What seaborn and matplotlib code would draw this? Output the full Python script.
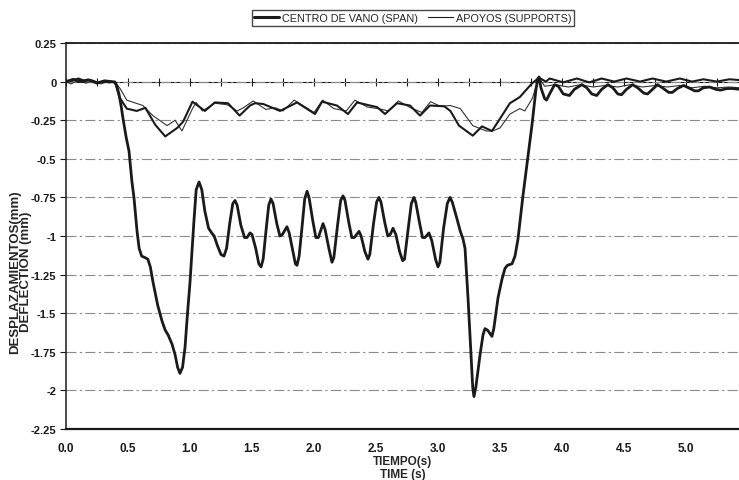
import matplotlib
matplotlib.use("Agg")
import matplotlib.pyplot as plt
from matplotlib.ticker import MultipleLocator
from matplotlib.lines import Line2D
import seaborn as sns
import pandas as pd

# ---------------- data ----------------
legend_labels = ["CENTRO DE VANO (SPAN)", "APOYOS (SUPPORTS)"]

t_span = [0.00, 0.06, 0.12, 0.18, 0.25, 0.31, 0.37, 0.395, 0.41, 0.427, 0.445, 0.46, 0.485,
          0.508, 0.532, 0.548, 0.573, 0.59, 0.61, 0.637, 0.66, 0.68, 0.702, 0.74, 0.774,
          0.80, 0.823, 0.855, 0.88, 0.90, 0.919, 0.94, 0.96, 0.98, 1.0, 1.032, 1.05,
          1.073, 1.095, 1.12, 1.15, 1.175, 1.195, 1.22, 1.25, 1.274, 1.295, 1.32, 1.345,
          1.363, 1.38, 1.41, 1.44, 1.46, 1.484, 1.50, 1.53, 1.555, 1.573, 1.59, 1.615,
          1.635, 1.653, 1.67, 1.70, 1.725, 1.745, 1.782, 1.80, 1.83, 1.85, 1.863, 1.88,
          1.905, 1.925, 1.944, 1.96, 1.99, 2.015, 2.035, 2.073, 2.09, 2.12, 2.145, 2.16,
          2.19, 2.215, 2.234, 2.25, 2.28, 2.305, 2.325, 2.363, 2.38, 2.41, 2.435, 2.45,
          2.48, 2.505, 2.524, 2.54, 2.57, 2.595, 2.615, 2.637, 2.66, 2.69, 2.715, 2.73,
          2.76, 2.785, 2.806, 2.82, 2.85, 2.875, 2.895, 2.927, 2.95, 2.98, 3.0, 3.015,
          3.045, 3.075, 3.097, 3.115, 3.15, 3.18, 3.202, 3.218, 3.242, 3.265, 3.28, 3.29,
          3.305, 3.339, 3.363, 3.379, 3.40, 3.435, 3.45, 3.484, 3.516, 3.54, 3.56, 3.597,
          3.621, 3.645, 3.685, 3.734, 3.758, 3.79, 3.805, 3.815, 3.83, 3.86, 3.875, 3.90,
          3.94, 3.97, 4.01, 4.06, 4.10, 4.16, 4.20, 4.24, 4.28, 4.32, 4.37, 4.41, 4.45,
          4.48, 4.52, 4.57, 4.61, 4.66, 4.69, 4.73, 4.77, 4.81, 4.86, 4.89, 4.93, 4.98,
          5.02, 5.07, 5.10, 5.14, 5.19, 5.24, 5.28, 5.33, 5.38, 5.43]
v_span = [0.00, 0.015, 0.0, 0.012, -0.01, 0.005, 0.0, -0.005, -0.03, -0.08, -0.16, -0.24, -0.36,
          -0.45, -0.65, -0.75, -0.97, -1.08, -1.13, -1.14, -1.15, -1.20, -1.30, -1.45, -1.55,
          -1.61, -1.64, -1.70, -1.77, -1.85, -1.89, -1.85, -1.72, -1.50, -1.30, -0.90, -0.70,
          -0.65, -0.70, -0.84, -0.95, -0.98, -1.00, -1.06, -1.12, -1.13, -1.08, -0.92, -0.79,
          -0.77, -0.80, -0.93, -1.01, -1.01, -0.98, -0.99, -1.08, -1.18, -1.20, -1.15, -0.95,
          -0.80, -0.76, -0.79, -0.92, -1.00, -0.99, -0.94, -0.98, -1.10, -1.18, -1.19, -1.13,
          -0.93, -0.76, -0.71, -0.75, -0.90, -1.01, -1.01, -0.92, -0.96, -1.08, -1.17, -1.14,
          -0.93, -0.77, -0.74, -0.77, -0.91, -1.01, -1.01, -0.97, -1.00, -1.10, -1.15, -1.12,
          -0.92, -0.78, -0.75, -0.78, -0.91, -1.00, -0.99, -0.95, -0.99, -1.10, -1.16, -1.15,
          -0.95, -0.79, -0.75, -0.78, -0.91, -1.01, -1.01, -0.98, -1.03, -1.15, -1.20, -1.17,
          -0.95, -0.79, -0.75, -0.78, -0.88, -0.97, -1.02, -1.08, -1.40, -1.75, -1.98, -2.04,
          -1.98, -1.77, -1.64, -1.60, -1.61, -1.65, -1.60, -1.40, -1.28, -1.21, -1.19, -1.18,
          -1.13, -1.02, -0.74, -0.43, -0.28, -0.05, 0.02, 0.03, -0.04, -0.11, -0.12, -0.08,
          -0.02, -0.03, -0.08, -0.09, -0.05, -0.02, -0.04, -0.08, -0.09, -0.05, -0.02, -0.04,
          -0.08, -0.085, -0.05, -0.02, -0.04, -0.075, -0.08, -0.05, -0.02, -0.04, -0.07,
          -0.07, -0.045, -0.025, -0.04, -0.06, -0.06, -0.04, -0.035, -0.05, -0.055, -0.045,
          -0.045, -0.05]

t_sup1 = [0.0, 0.05, 0.10, 0.15, 0.20, 0.25, 0.30, 0.35, 0.395, 0.43, 0.49, 0.57, 0.64,
          0.72, 0.80, 0.897, 0.944, 1.02, 1.12, 1.20, 1.306, 1.40, 1.484, 1.524, 1.59,
          1.726, 1.863, 2.008, 2.065, 2.185, 2.274, 2.347, 2.452, 2.508, 2.573, 2.669,
          2.774, 2.855, 2.935, 3.05, 3.10, 3.169, 3.28, 3.355, 3.435, 3.50, 3.58, 3.66,
          3.76, 3.815, 3.87, 3.90, 4.01, 4.12, 4.22, 4.32, 4.42, 4.52, 4.63, 4.73, 4.84,
          4.95, 5.05, 5.14, 5.25, 5.35, 5.43]
v_sup1 = [0.0, 0.005, 0.02, 0.005, 0.01, -0.005, 0.0, -0.005, 0.0, -0.10, -0.175, -0.19,
          -0.17, -0.28, -0.355, -0.30, -0.26, -0.13, -0.19, -0.135, -0.14, -0.22, -0.155,
          -0.14, -0.145, -0.19, -0.135, -0.21, -0.13, -0.155, -0.21, -0.135, -0.155, -0.165,
          -0.21, -0.14, -0.155, -0.22, -0.155, -0.16, -0.19, -0.285, -0.35, -0.29, -0.32,
          -0.24, -0.14, -0.10, -0.01, 0.025, 0.0, 0.02, -0.005, 0.02, -0.005, 0.02, 0.0,
          0.02, 0.0, 0.02, 0.0, 0.02, 0.0, 0.015, 0.0, 0.015, 0.01]

t_sup2 = [0.0, 0.04, 0.10, 0.16, 0.22, 0.28, 0.34, 0.395, 0.44, 0.49, 0.62, 0.70, 0.815,
          0.88, 0.935, 1.02, 1.05, 1.10, 1.20, 1.30, 1.38, 1.43, 1.51, 1.61, 1.69, 1.75,
          1.84, 1.92, 2.00, 2.07, 2.16, 2.26, 2.33, 2.43, 2.52, 2.60, 2.68, 2.78, 2.87,
          2.94, 3.02, 3.10, 3.18, 3.28, 3.39, 3.44, 3.50, 3.58, 3.66, 3.70, 3.76, 3.80,
          3.82, 3.86, 3.95, 4.05, 4.15, 4.25, 4.35, 4.45, 4.55, 4.65, 4.75, 4.85, 4.95,
          5.05, 5.15, 5.25, 5.35, 5.43]
v_sup2 = [0.0, -0.015, 0.01, -0.01, 0.005, -0.015, 0.0, 0.0, -0.05, -0.12, -0.155, -0.22,
          -0.285, -0.25, -0.32, -0.175, -0.135, -0.19, -0.14, -0.15, -0.19, -0.17, -0.125,
          -0.18, -0.17, -0.19, -0.12, -0.16, -0.20, -0.12, -0.175, -0.19, -0.12, -0.165,
          -0.175, -0.19, -0.125, -0.17, -0.20, -0.13, -0.16, -0.155, -0.175, -0.285, -0.32,
          -0.32, -0.30, -0.21, -0.175, -0.19, -0.11, -0.01, 0.02, -0.03, -0.02, -0.035,
          -0.02, -0.035, -0.025, -0.035, -0.02, -0.035, -0.025, -0.035, -0.025, -0.04,
          -0.03, -0.04, -0.035, -0.04]

y_ticks = [0.25, 0, -0.25, -0.5, -0.75, -1, -1.25, -1.5, -1.75, -2, -2.25]
y_tick_labels = ["0.25", "0", "-0.25", "-0.5", "-0.75", "-1", "-1.25", "-1.5", "-1.75", "-2", "-2.25"]
x_ticks = [0.0, 0.5, 1.0, 1.5, 2.0, 2.5, 3.0, 3.5, 4.0, 4.5, 5.0]
x_tick_labels = ["0.0", "0.5", "1.0", "1.5", "2.0", "2.5", "3.0", "3.5", "4.0", "4.5", "5.0"]

# ---------------- styling ----------------
sns.set_theme(style="white")
plt.rcParams["font.family"] = ["Liberation Sans Narrow", "Liberation Sans", "DejaVu Sans"]

W, H = 739, 481
fig = plt.figure(figsize=(W / 100, H / 100), dpi=100)
ax = fig.add_axes([66 / W, 1 - 430 / H, (W - 66) / W, (430 - 44) / H])

ink = "#1a1a1a"
df_span = pd.DataFrame({"t": t_span, "v": v_span})
df_s1 = pd.DataFrame({"t": t_sup1, "v": v_sup1})
df_s2 = pd.DataFrame({"t": t_sup2, "v": v_sup2})

sns.lineplot(data=df_s2, x="t", y="v", sort=False, estimator=None, color="#333333",
             linewidth=0.8, ax=ax, legend=False, zorder=3, solid_joinstyle="round")
sns.lineplot(data=df_s1, x="t", y="v", sort=False, estimator=None, color=ink,
             linewidth=1.5, ax=ax, legend=False, zorder=4, solid_joinstyle="round")
sns.lineplot(data=df_span, x="t", y="v", sort=False, estimator=None, color=ink,
             linewidth=2.0, ax=ax, legend=False, zorder=5, solid_joinstyle="round")

ax.set_xlim(0, (W - 66) / 124)
ax.set_ylim(-2.25, 0.25)

ax.set_yticks(y_ticks)
ax.set_yticklabels(y_tick_labels, fontsize=8, fontweight="bold", family=["Liberation Sans", "DejaVu Sans"])
ax.set_xticks(x_ticks)
ax.set_xticklabels(x_tick_labels, fontsize=8.5, fontweight="bold")
ax.tick_params(axis="x", length=0, pad=9, colors=ink)
ax.tick_params(axis="y", length=4, width=0.8, direction="out", left=True, pad=3, colors=ink)

# dash-dot horizontal grid
ax.yaxis.grid(True, color="#8a8a8a", linewidth=0.8, linestyle=(0, (9, 3, 2, 3)))
ax.xaxis.grid(False)

for side in ["left", "top", "bottom"]:
    ax.spines[side].set_visible(True)
    ax.spines[side].set_color(ink)
ax.spines["right"].set_visible(False)
ax.spines["left"].set_linewidth(1.1)
ax.spines["top"].set_linewidth(1.3)
ax.spines["bottom"].set_linewidth(1.6)

# zero line with tick marks (secondary x axis at value 0)
zero_frac = (0 - (-2.25)) / 2.5
sec = ax.secondary_xaxis(zero_frac)
sec.xaxis.set_major_locator(MultipleLocator(0.25))
sec.tick_params(axis="x", direction="inout", length=6, width=0.8, labelbottom=False,
                labeltop=False, colors=ink)
sec.spines["top"].set_linewidth(0.8)
sec.spines["top"].set_color(ink)
sec.spines["bottom"].set_visible(False)

ax.set_xlabel("TIEMPO(s)\nTIME (s)", fontsize=8.5, fontweight="bold", labelpad=1,
              linespacing=1.15)
ax.set_ylabel("DESPLAZAMIENTOS(mm)\nDEFLECTION (mm)", fontsize=9.5, fontweight="bold",
              family=["Liberation Sans", "DejaVu Sans"], linespacing=0.95)
ax.yaxis.set_label_coords(-0.05, 0.41)

handles = [Line2D([], [], color=ink, linewidth=2.2),
           Line2D([], [], color=ink, linewidth=0.8)]
fig.legend(handles, legend_labels, loc="upper center", bbox_to_anchor=(413 / W, 1 - 6 / H),
           ncol=2, frameon=True, fancybox=False, edgecolor=ink,
           handlelength=2.3, handletextpad=0.3, columnspacing=0.9, borderpad=0.25,
           prop={"family": ["Liberation Sans", "DejaVu Sans"], "size": 7.8})

fig.savefig("out.png", dpi=100, facecolor="white")
